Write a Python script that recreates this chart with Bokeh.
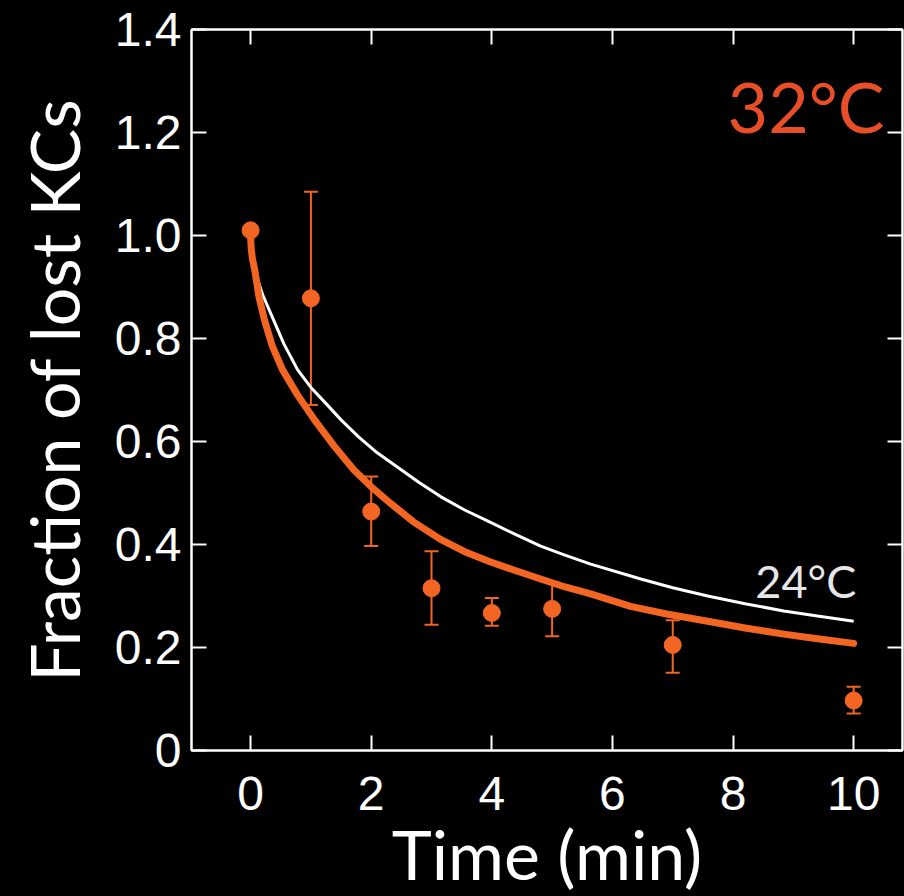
from bokeh.plotting import figure
from bokeh.models import ColumnDataSource, Whisker, TeeHead, LinearAxis, Label, FixedTicker, Range1d
from bokeh.embed import file_html
from bokeh.resources import INLINE

# measured data at 32°C
t_pts = [0, 1, 2, 3, 4, 5, 7, 10]
y_pts = [1.01, 0.878, 0.464, 0.315, 0.267, 0.275, 0.205, 0.097]
y_upper = [1.01, 1.085, 0.532, 0.387, 0.296, 0.327, 0.253, 0.124]
y_lower = [1.01, 0.671, 0.397, 0.244, 0.242, 0.222, 0.151, 0.072]

# fitted curve, 32°C
t_fit32 = [0, 0.01, 0.03, 0.07, 0.14, 0.23, 0.36, 0.53, 0.78, 1.06, 1.38, 1.71, 2.0, 2.32, 2.7,
           3.15, 3.55, 3.98, 4.4, 4.81, 5.2, 5.64, 6.30, 6.9, 7.58, 8.2, 8.84, 9.4, 10]
y_fit32 = [1.0, 0.975, 0.955, 0.932, 0.880, 0.836, 0.785, 0.739, 0.690, 0.642, 0.592, 0.545, 0.512, 0.480, 0.444,
           0.410, 0.386, 0.366, 0.349, 0.333, 0.318, 0.304, 0.280, 0.265, 0.251, 0.238, 0.226, 0.217, 0.208]

# fitted curve, 24°C
t_fit24 = [0, 0.01, 0.03, 0.07, 0.12, 0.2, 0.38, 0.55, 0.78, 1.0, 1.24, 1.5, 1.79, 2.1, 2.45,
           2.8, 3.15, 3.55, 3.98, 4.4, 4.81, 5.2, 5.64, 6.47, 7.0, 7.58, 8.2, 8.84, 9.4, 10]
y_fit24 = [1.0, 0.976, 0.957, 0.935, 0.913, 0.885, 0.836, 0.790, 0.739, 0.705, 0.675, 0.642, 0.609, 0.578, 0.549,
           0.520, 0.493, 0.467, 0.443, 0.419, 0.397, 0.380, 0.362, 0.333, 0.316, 0.300, 0.285, 0.271, 0.261, 0.251]

x_ticks = [0, 2, 4, 6, 8, 10]
y_ticks = [0, 0.2, 0.4, 0.6, 0.8, 1.0, 1.2, 1.4]
y_tick_labels = {0: "0", 0.2: "0.2", 0.4: "0.4", 0.6: "0.6", 0.8: "0.8", 1.0: "1.0", 1.2: "1.2", 1.4: "1.4"}

ORANGE = "#F26522"
RED_ORANGE = "#E84E27"

p = figure(width=904, height=896, output_backend="svg", toolbar_location=None,
           x_range=Range1d(-0.98, 10.81), y_range=Range1d(0, 1.4),
           background_fill_color="black", border_fill_color="black",
           min_border_left=191, min_border_top=29, min_border_right=2, min_border_bottom=144)
p.outline_line_color = "white"
p.outline_line_width = 2
p.grid.visible = False

# curves
p.line(t_fit24, y_fit24, line_color="white", line_width=3)
p.line(t_fit32, y_fit32, line_color=ORANGE, line_width=7, line_cap="round", line_join="round")

src = ColumnDataSource(dict(t=t_pts, y=y_pts, up=y_upper, lo=y_lower))
w = Whisker(source=src, base="t", upper="up", lower="lo", line_color=ORANGE, line_width=2,
            upper_head=TeeHead(size=14, line_color=ORANGE, line_width=2),
            lower_head=TeeHead(size=14, line_color=ORANGE, line_width=2))
p.add_layout(w)
p.scatter("t", "y", source=src, size=17, fill_color=ORANGE, line_color=ORANGE)

p.add_layout(Label(x=7.91, y=1.251, text="32°C", text_color=RED_ORANGE, text_font="Lato",
                   text_font_size="70px", text_baseline="alphabetic"))
p.add_layout(Label(x=8.37, y=0.330, text="24°C", text_color="#E6E6E6", text_font="Lato",
                   text_font_size="45px", text_baseline="alphabetic"))

def style_axis(ax, labels=True):
    ax.axis_line_color = "white"
    ax.axis_line_width = 2
    ax.major_tick_line_color = "white"
    ax.major_tick_line_width = 2
    ax.major_tick_in = 15
    ax.major_tick_out = 0
    ax.minor_tick_line_color = None
    ax.major_label_text_color = "white"
    ax.major_label_text_font = "Liberation Sans"
    ax.major_label_text_font_size = "48px"
    if not labels:
        ax.major_label_text_font_size = "0px"
        ax.major_label_text_color = None

xa = p.xaxis[0]
xa.ticker = FixedTicker(ticks=x_ticks)
style_axis(xa)
xa.major_label_standoff = 26
xa.axis_label = "Time (min)"
xa.axis_label_text_font = "Lato"
xa.axis_label_text_font_style = "normal"
xa.axis_label_text_font_size = "68px"
xa.axis_label_text_color = "white"
xa.axis_label_standoff = 0

ya = p.yaxis[0]
ya.ticker = FixedTicker(ticks=y_ticks)
ya.major_label_overrides = y_tick_labels
style_axis(ya)
ya.major_label_standoff = 10
ya.axis_label = "Fraction of lost KCs"
ya.axis_label_text_font = "Lato"
ya.axis_label_text_font_style = "normal"
ya.axis_label_text_font_size = "68px"
ya.axis_label_text_color = "white"
ya.axis_label_standoff = 18

top = LinearAxis(ticker=FixedTicker(ticks=x_ticks))
style_axis(top, labels=False)
p.add_layout(top, "above")
right = LinearAxis(ticker=FixedTicker(ticks=y_ticks))
style_axis(right, labels=False)
p.add_layout(right, "right")

html = file_html(p, INLINE)
html = html.replace("<head>", "<head><style>html,body{background:#000;}</style>", 1)
open("out.html", "w").write(html)
